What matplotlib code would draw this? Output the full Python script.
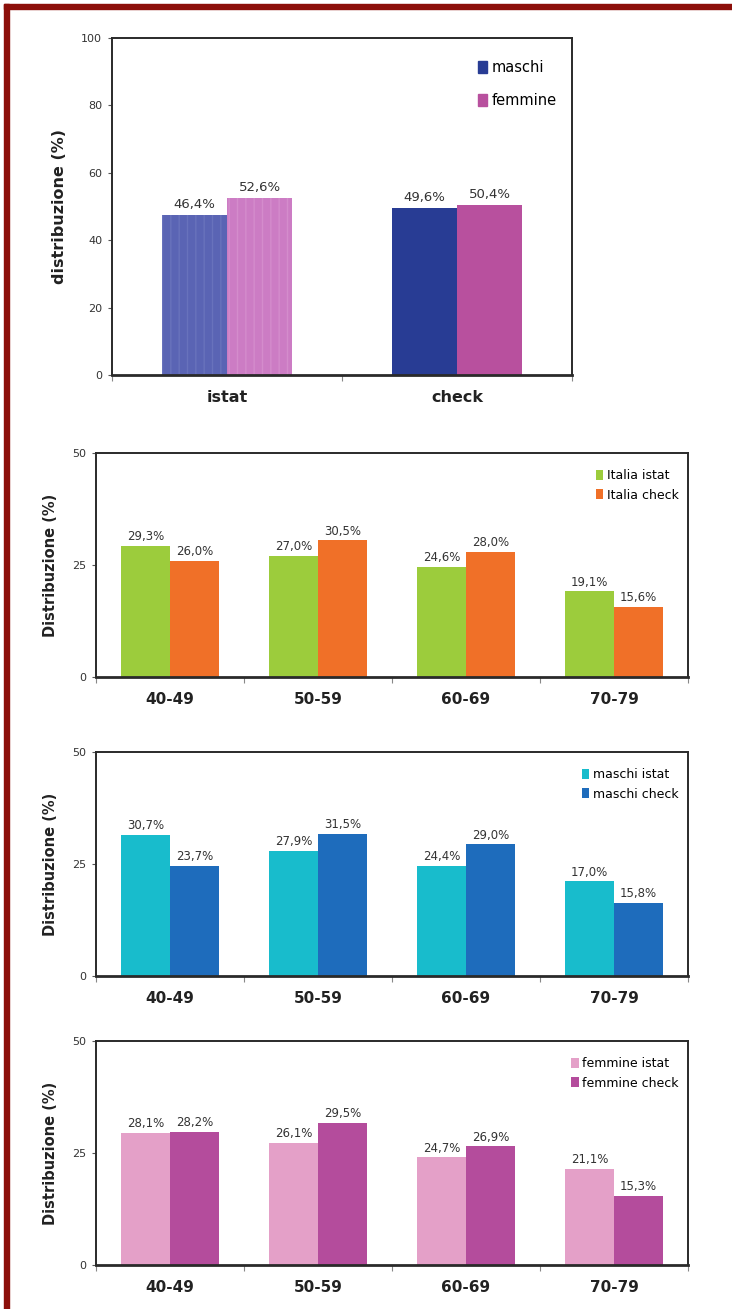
import numpy as np
import matplotlib
matplotlib.use("Agg")
from matplotlib import pyplot as plt
from matplotlib.patches import Rectangle

#%% data
sex_groups = ["istat", "check"]
maschi = [47.4, 49.6]
femmine = [52.6, 50.4]
maschi_lbl = ["46,4%", "49,6%"]
femmine_lbl = ["52,6%", "50,4%"]

ages = ["40-49", "50-59", "60-69", "70-79"]

italia_istat = [29.3, 27.0, 24.6, 19.1]
italia_check = [26.0, 30.5, 28.0, 15.6]
italia_istat_lbl = ["29,3%", "27,0%", "24,6%", "19,1%"]
italia_check_lbl = ["26,0%", "30,5%", "28,0%", "15,6%"]

maschi_istat = [31.5, 27.9, 24.6, 21.1]
maschi_check = [24.6, 31.7, 29.4, 16.4]
maschi_istat_lbl = ["30,7%", "27,9%", "24,4%", "17,0%"]
maschi_check_lbl = ["23,7%", "31,5%", "29,0%", "15,8%"]

femmine_istat = [29.5, 27.2, 24.0, 21.4]
femmine_check = [29.7, 31.8, 26.5, 15.5]
femmine_istat_lbl = ["28,1%", "26,1%", "24,7%", "21,1%"]
femmine_check_lbl = ["28,2%", "29,5%", "26,9%", "15,3%"]

plt.rcParams['font.family'] = ['DejaVu Sans']

W, H = 732, 1309
fig = plt.figure(figsize=(W / 100, H / 100), dpi=100)
fig.patch.set_facecolor("white")

# dark red frame on left and top
red = "#8c0f0a"
fig.patches.append(Rectangle((4 / W, 0), 5 / W, 1 - 4 / H, transform=fig.transFigure,
                             color=red, zorder=10))
fig.patches.append(Rectangle((4 / W, 1 - 9 / H), 1, 5 / H, transform=fig.transFigure,
                             color=red, zorder=10))


def px_axes(x0, x1, y0, y1):
    return fig.add_axes([x0 / W, 1 - y1 / H, (x1 - x0) / W, (y1 - y0) / H])


def style_axes(ax, n, ymax, yticks, ylabel, xlabels, lab_size, ylab_size):
    ax.set_xlim(0, n)
    ax.set_ylim(0, ymax)
    ax.set_yticks(yticks)
    ax.set_yticklabels([str(t) for t in yticks], fontsize=8, color="#333333")
    ax.set_xticks(np.arange(n) + 0.5)
    ax.set_xticklabels(xlabels, fontsize=lab_size, fontweight="bold", color="#222222")
    ax.set_xticks(np.arange(n + 1), minor=True)
    ax.tick_params(axis="x", which="major", length=0, pad=11)
    ax.tick_params(axis="x", which="minor", length=4, width=0.8, direction="out", color="#888888")
    ax.tick_params(axis="y", length=3, width=0.8, color="#555555", pad=4)
    for s in ax.spines.values():
        s.set_color("#2a2a2a")
        s.set_linewidth(1.4)
    ax.spines["bottom"].set_linewidth(2)
    ax.set_ylabel(ylabel, fontsize=ylab_size, fontweight="bold", color="#222222", labelpad=10)


def bar_pair(ax, v1, v2, l1, l2, c1, c2, width, lsize, hatch=None, hc=None):
    x = np.arange(len(v1)) + 0.5
    if hatch:
        # first group striped, second group solid
        b1 = ax.bar(x[:1] - width / 2, v1[:1], width, color=c1, hatch=hatch, edgecolor=hc[0], linewidth=0)
        b2 = ax.bar(x[:1] + width / 2, v2[:1], width, color=c2, hatch=hatch, edgecolor=hc[1], linewidth=0)
        ax.bar(x[1:] - width / 2, v1[1:], width, color=hc[2], linewidth=0)
        ax.bar(x[1:] + width / 2, v2[1:], width, color=hc[3], linewidth=0)
    else:
        b1 = ax.bar(x - width / 2, v1, width, color=c1, linewidth=0)
        b2 = ax.bar(x + width / 2, v2, width, color=c2, linewidth=0)
    ymax = ax.get_ylim()[1]
    for xi, v, t in zip(x - width / 2, v1, l1):
        ax.text(xi, v + ymax * 0.012, t, ha="center", va="bottom", fontsize=lsize, color="#333333")
    for xi, v, t in zip(x + width / 2, v2, l2):
        ax.text(xi, v + ymax * 0.012, t, ha="center", va="bottom", fontsize=lsize, color="#333333")
    return b1, b2


#%% panel 1
plt.rcParams['hatch.linewidth'] = 1.0
ax1 = px_axes(112, 572, 38, 375)
style_axes(ax1, 2, 100, [0, 20, 40, 60, 80, 100], "distribuzione (%)", sex_groups, 11.5, 11.5)
bar_pair(ax1, maschi, femmine, maschi_lbl, femmine_lbl, "#5a64b4", "#cc7cc4",
         0.283, 9.5, hatch="||", hc=["#6872bc", "#d48ccc", "#283c94", "#b8509e"])
ax1.legend([Rectangle((0, 0), 1, 1, color="#283c94"), Rectangle((0, 0), 1, 1, color="#b8509e")],
           ["maschi", "femmine"], loc="upper left", bbox_to_anchor=(0.78, 0.955),
           frameon=False, fontsize=10.5, handlelength=0.6, handleheight=0.9,
           handletextpad=0.3, labelspacing=1.2, borderpad=0)

#%% panels 2-4
panels = [
    (453, 677, italia_istat, italia_check, italia_istat_lbl, italia_check_lbl,
     "#9ccc3c", "#f07028", ["Italia istat", "Italia check"]),
    (752, 976, maschi_istat, maschi_check, maschi_istat_lbl, maschi_check_lbl,
     "#18bccc", "#1e6cbc", ["maschi istat", "maschi check"]),
    (1041, 1265, femmine_istat, femmine_check, femmine_istat_lbl, femmine_check_lbl,
     "#e4a0c8", "#b44c9c", ["femmine istat", "femmine check"]),
]
for y0, y1, a, b, la, lb, c1, c2, names in panels:
    ax = px_axes(96, 688, y0, y1)
    style_axes(ax, 4, 50, [0, 25, 50], "Distribuzione (%)", ages, 11, 10.5)
    b1, b2 = bar_pair(ax, a, b, la, lb, c1, c2, 0.33, 8.5)
    ax.legend([b1, b2], names, loc="upper right", bbox_to_anchor=(0.995, 0.955),
              frameon=False, fontsize=9, handlelength=0.6, handleheight=0.9,
              handletextpad=0.3, labelspacing=0.5, borderpad=0)

fig.savefig("out.png", dpi=100)
